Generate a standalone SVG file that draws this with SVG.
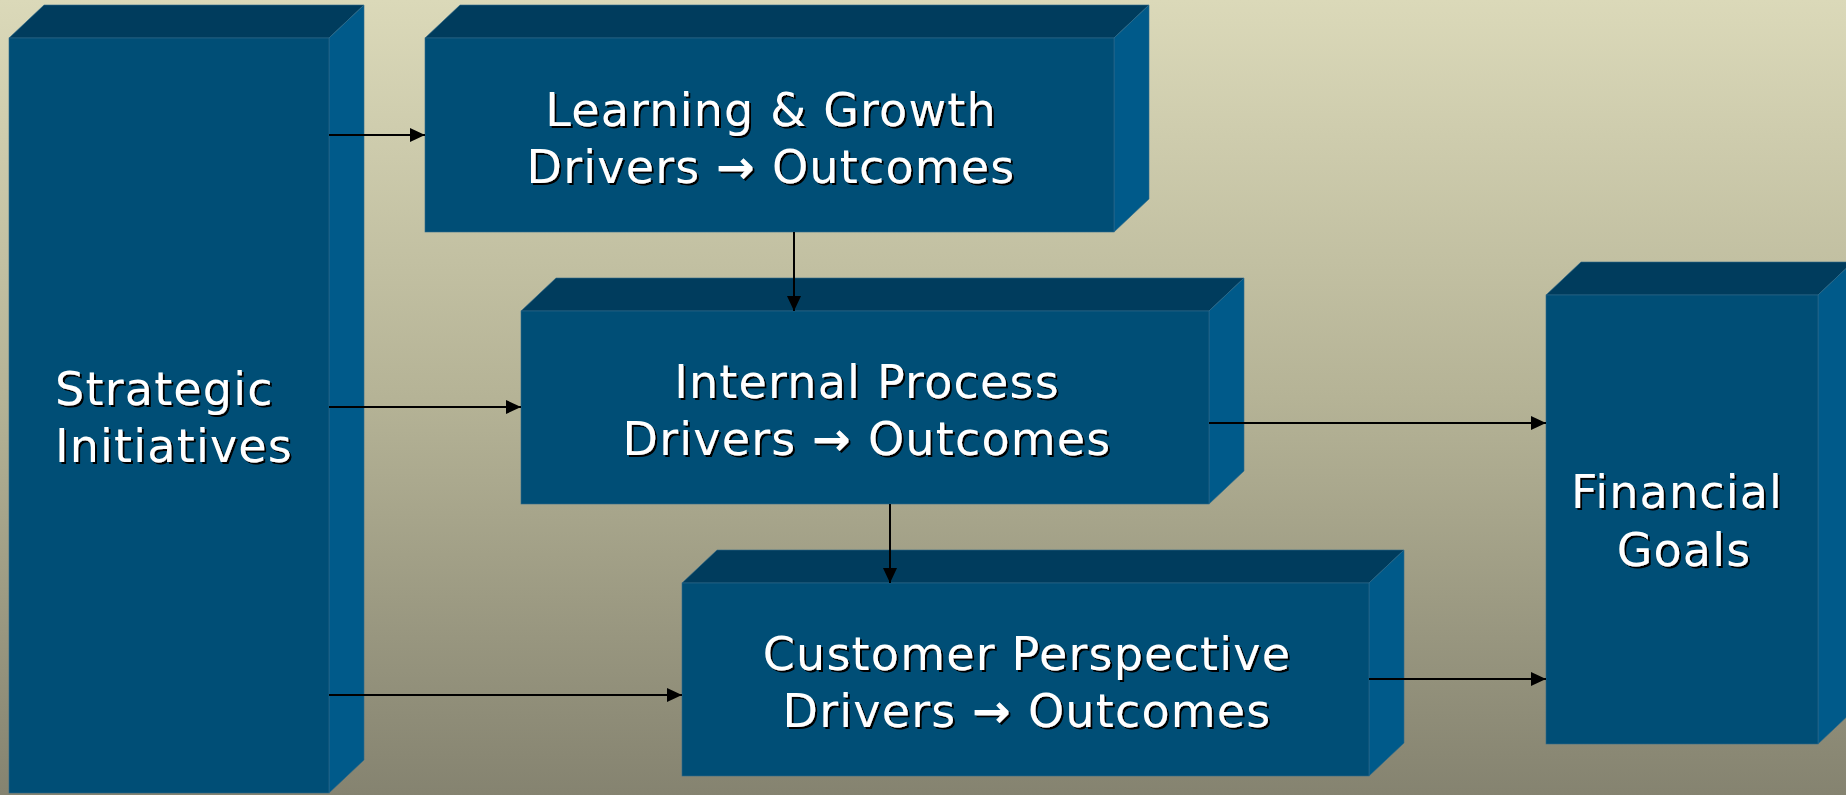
<svg xmlns="http://www.w3.org/2000/svg" width="1846" height="795" viewBox="0 0 1846 795">
<defs>
<linearGradient id="bg" x1="0" y1="0" x2="0" y2="1">
<stop offset="0" stop-color="#DBD9B9"/>
<stop offset="0.5" stop-color="#B5B396"/>
<stop offset="1" stop-color="#858370"/>
</linearGradient>
<filter id="sh" x="-10%" y="-20%" width="120%" height="140%">
<feOffset in="SourceAlpha" dx="2" dy="2" result="o"/>
<feMerge><feMergeNode in="o"/><feMergeNode in="SourceGraphic"/></feMerge>
</filter>
<marker id="ah" markerUnits="userSpaceOnUse" markerWidth="16" markerHeight="16" refX="15" refY="7" orient="auto">
<path d="M0,0 L15,7 L0,14 z" fill="#000"/>
</marker>
<style>
.front{fill:#004E76;stroke:#2F6A8A;stroke-width:0.6}
.top{fill:#003C5D;stroke:#2F6A8A;stroke-width:0.6}
.side{fill:#005A8A;stroke:#2F6A8A;stroke-width:0.6}
.lbl{font-family:"DejaVu Sans",Verdana,sans-serif;font-size:46px;letter-spacing:1.2px;fill:#fff;filter:url(#sh)}
.mid{text-anchor:middle}
.arr{font-weight:bold}
.conn{stroke:#000;stroke-width:2;fill:none;marker-end:url(#ah)}
</style>
</defs>
<rect x="0" y="0" width="1846" height="795" fill="url(#bg)"/>

<g id="strategic">
<polygon class="top" points="9,38 44,5 364,5 329,38"/>
<polygon class="side" points="329,38 364,5 364,760 329,793"/>
<rect class="front" x="9" y="38" width="320" height="755"/>
<text class="lbl" x="55" y="405">Strategic</text>
<text class="lbl" x="55" y="462">Initiatives</text>
</g>

<g id="learning">
<polygon class="top" points="425,38 460,5 1149,5 1114,38"/>
<polygon class="side" points="1114,38 1149,5 1149,199 1114,232"/>
<rect class="front" x="425" y="38" width="689" height="194"/>
<text class="lbl mid" x="771" y="126">Learning &amp; Growth</text>
<text class="lbl mid" x="771" y="183">Drivers <tspan class="arr">→</tspan> Outcomes</text>
</g>

<g id="internal">
<polygon class="top" points="521,311 556,278 1244,278 1209,311"/>
<polygon class="side" points="1209,311 1244,278 1244,471 1209,504"/>
<rect class="front" x="521" y="311" width="688" height="193"/>
<text class="lbl mid" x="867" y="398">Internal Process</text>
<text class="lbl mid" x="867" y="455">Drivers <tspan class="arr">→</tspan> Outcomes</text>
</g>

<g id="customer">
<polygon class="top" points="682,583 717,550 1404,550 1369,583"/>
<polygon class="side" points="1369,583 1404,550 1404,743 1369,776"/>
<rect class="front" x="682" y="583" width="687" height="193"/>
<text class="lbl mid" x="1027" y="670">Customer Perspective</text>
<text class="lbl mid" x="1027" y="727">Drivers <tspan class="arr">→</tspan> Outcomes</text>
</g>

<g id="financial">
<polygon class="top" points="1546,295 1581,262 1853,262 1818,295"/>
<polygon class="side" points="1818,295 1853,262 1853,711 1818,744"/>
<rect class="front" x="1546" y="295" width="272" height="449"/>
<text class="lbl mid" x="1677" y="508">Financial</text>
<text class="lbl mid" x="1684" y="566">Goals</text>
</g>

<g id="connectors">
<line class="conn" x1="329" y1="135" x2="425" y2="135"/>
<line class="conn" x1="329" y1="407" x2="521" y2="407"/>
<line class="conn" x1="329" y1="695" x2="682" y2="695"/>
<line class="conn" x1="794" y1="232" x2="794" y2="311"/>
<line class="conn" x1="890" y1="504" x2="890" y2="583"/>
<line class="conn" x1="1209" y1="423" x2="1546" y2="423"/>
<line class="conn" x1="1369" y1="679" x2="1546" y2="679"/>
</g>
</svg>
